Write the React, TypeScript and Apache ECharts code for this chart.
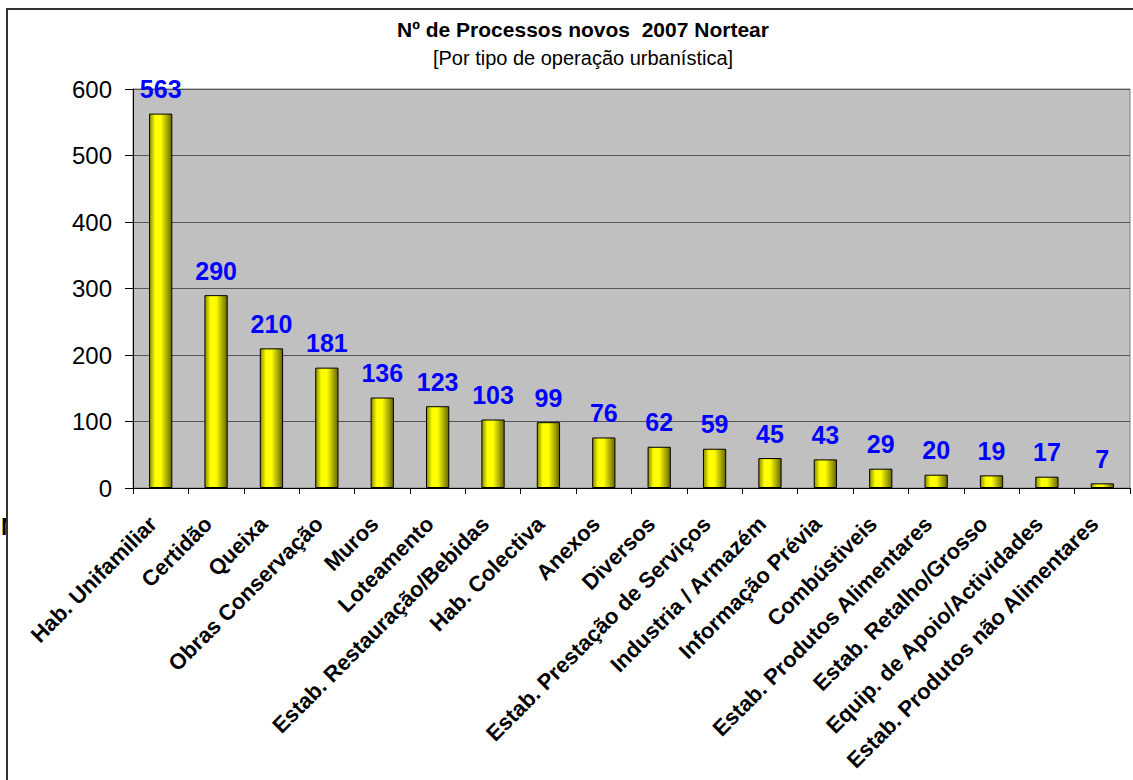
import React, { useEffect, useRef } from "react";
import * as echarts from "echarts";

const categories = [
  "Hab. Unifamiliar",
  "Certidão",
  "Queixa",
  "Obras Conservação",
  "Muros",
  "Loteamento",
  "Estab. Restauração/Bebidas",
  "Hab. Colectiva",
  "Anexos",
  "Diversos",
  "Estab. Prestação de Serviços",
  "Industria / Armazém",
  "Informação Prévia",
  "Combústiveis",
  "Estab. Produtos Alimentares",
  "Estab. Retalho/Grosso",
  "Equip. de Apoio/Actividades",
  "Estab. Produtos não Alimentares",
];

const values = [563, 290, 210, 181, 136, 123, 103, 99, 76, 62, 59, 45, 43, 29, 20, 19, 17, 7];

const titleText = "Nº de Processos novos  2007 Nortear";
const subtitleText = "[Por tipo de operação urbanística]";

export default function App() {
  const ref = useRef<HTMLDivElement>(null);

  useEffect(() => {
    if (!ref.current) return;
    const chart = echarts.init(ref.current, null, { renderer: "svg" });
    const font = "'Liberation Sans', Arial, sans-serif";
    chart.setOption({
      animation: false,
      backgroundColor: "#ffffff",
      graphic: [
        {
          type: "text",
          x: 1,
          y: 514,
          z: 90,
          style: { text: "N", font: `bold 24px ${font}`, fill: "#000" },
        },
        {
          type: "rect",
          shape: { x: 8, y: 505, width: 20, height: 40 },
          style: { fill: "#ffffff" },
          z: 95,
        },
        {
          type: "rect",
          shape: { x: 7, y: 9, width: 1200, height: 900 },
          style: { fill: "none", stroke: "#333333", lineWidth: 2 },
          z: 100,
        },
      ],
      title: {
        text: titleText,
        subtext: subtitleText,
        left: 578,
        textAlign: "center",
        top: 14,
        itemGap: 8,
        textStyle: { fontFamily: font, fontSize: 21, fontWeight: "bold", color: "#000" },
        subtextStyle: { fontFamily: font, fontSize: 20, color: "#000" },
      },
      grid: {
        left: 133,
        top: 89,
        right: 3,
        bottom: 292,
        containLabel: false,
        show: true,
        backgroundColor: "#c0c0c0",
        borderColor: "#808080",
        borderWidth: 1,
      },
      xAxis: {
        type: "category",
        data: categories,
        axisLine: { lineStyle: { color: "#000", width: 1 } },
        axisTick: { show: true, length: 6, lineStyle: { color: "#000" } },
        axisLabel: {
          rotate: 45,
          interval: 0,
          margin: 40,
          verticalAlign: "bottom",
          fontFamily: font,
          fontSize: 22,
          fontWeight: "bold",
          color: "#000",
        },
      },
      yAxis: {
        type: "value",
        min: 0,
        max: 600,
        interval: 100,
        axisLine: { show: true, lineStyle: { color: "#000", width: 1 } },
        axisTick: { show: true, length: 8, lineStyle: { color: "#000" } },
        axisLabel: { margin: 21, fontFamily: font, fontSize: 24, color: "#000" },
        splitLine: { show: true, lineStyle: { color: "#555555", width: 1 } },
      },
      series: [
        {
          type: "bar",
          data: values,
          barWidth: "42%",
          itemStyle: {
            borderColor: "#000",
            borderWidth: 1,
            color: new echarts.graphic.LinearGradient(0, 0, 1, 0, [
              { offset: 0, color: "#8a8a00" },
              { offset: 0.25, color: "#ffff00" },
              { offset: 0.5, color: "#ffff00" },
              { offset: 1, color: "#666600" },
            ]),
          },
          label: {
            show: true,
            position: "top",
            distance: 12,
            fontFamily: font,
            fontSize: 25,
            fontWeight: "bold",
            color: "#0000ff",
          },
        },
      ],
    });
    return () => chart.dispose();
  }, []);

  return <div ref={ref} style={{ position: "fixed", left: 0, top: 0, width: 1133, height: 780 }} />;
}
